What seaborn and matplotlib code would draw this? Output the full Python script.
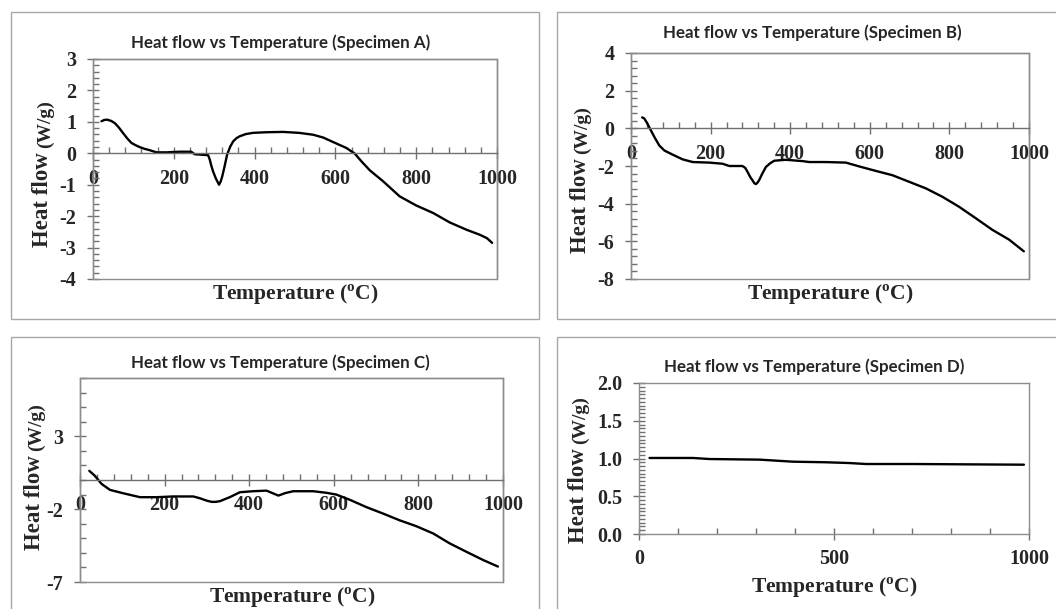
import matplotlib
matplotlib.use("Agg")
import matplotlib.pyplot as plt
from matplotlib.patches import Rectangle
from matplotlib.ticker import MultipleLocator, FixedLocator, FormatStrFormatter
import seaborn as sns

sns.set_style("white")
plt.rcParams["font.family"] = ["Liberation Serif", "DejaVu Serif"]
plt.rcParams["axes.unicode_minus"] = False
plt.rcParams["mathtext.fontset"] = "custom"
plt.rcParams["mathtext.rm"] = "Liberation Serif"
plt.rcParams["mathtext.bf"] = "Liberation Serif:bold"

# Specimen A
temp_a = [21, 28, 35, 45, 54, 64, 74, 85, 95, 105, 115, 128, 140, 157, 182, 215, 243, 252,
          285, 289, 293, 297, 304, 312, 316, 320, 326, 332, 340, 347, 355, 363, 378, 396,
          430, 470, 510, 545, 570, 594, 627, 648, 664, 685, 718, 759, 800, 842, 883, 924,
          957, 975, 988]
flow_a = [1.02, 1.06, 1.07, 1.03, 0.96, 0.82, 0.65, 0.47, 0.33, 0.26, 0.2, 0.14, 0.1, 0.03,
          0.03, 0.05, 0.05, -0.03, -0.06, -0.2, -0.4, -0.57, -0.8, -1.0, -0.9, -0.73, -0.4,
          -0.04, 0.22, 0.38, 0.48, 0.54, 0.61, 0.65, 0.67, 0.68, 0.65, 0.59, 0.5, 0.36, 0.17,
          -0.01, -0.25, -0.54, -0.89, -1.37, -1.66, -1.9, -2.2, -2.43, -2.59, -2.7, -2.85]

# Specimen B
temp_b = [28, 33, 40, 46, 59, 71, 84, 105, 130, 155, 197, 230, 247, 280, 287, 293, 300, 305,
          310, 314, 318, 322, 330, 339, 350, 360, 389, 431, 448, 490, 540, 573, 615, 657,
          699, 741, 782, 824, 866, 908, 950, 987]
flow_b = [0.58, 0.53, 0.3, 0.05, -0.47, -0.91, -1.18, -1.4, -1.65, -1.79, -1.82, -1.88, -2.0,
          -2.0, -2.1, -2.32, -2.6, -2.75, -2.92, -2.96, -2.88, -2.75, -2.4, -2.05, -1.85,
          -1.72, -1.67, -1.74, -1.79, -1.79, -1.82, -2.02, -2.26, -2.49, -2.84, -3.19, -3.63,
          -4.16, -4.77, -5.39, -5.91, -6.53]

# Specimen C
temp_c = [22, 35, 51, 71, 102, 142, 181, 220, 268, 283, 300, 311, 321, 331, 354, 378, 409,
          441, 455, 469, 485, 504, 551, 583, 606, 638, 677, 717, 756, 795, 835, 874, 913,
          953, 988]
flow_c = [0.63, 0.29, -0.27, -0.68, -0.91, -1.18, -1.18, -1.13, -1.13, -1.25, -1.42, -1.5,
          -1.5, -1.45, -1.18, -0.84, -0.77, -0.73, -0.9, -1.07, -0.9, -0.77, -0.77, -0.88,
          -1.0, -1.36, -1.86, -2.31, -2.77, -3.17, -3.67, -4.35, -4.92, -5.49, -5.94]

# Specimen D
temp_d = [27, 138, 181, 309, 394, 480, 539, 582, 701, 987]
flow_d = [1.007, 1.007, 0.993, 0.985, 0.958, 0.95, 0.94, 0.927, 0.927, 0.918]

W, H = 1056, 609
fig = plt.figure(figsize=(W / 100, H / 100), dpi=100)


def fig_box(x0, y0, x1, y1):
    fig.add_artist(Rectangle((x0 / W, 1 - y1 / H), (x1 - x0) / W, (y1 - y0) / H,
                             transform=fig.transFigure, fill=False,
                             edgecolor="#a8a8a8", linewidth=1))


def px_axes(l, t, r, b):
    return fig.add_axes([l / W, 1 - b / H, (r - l) / W, (b - t) / H])


fig_box(11, 12, 539, 319)
fig_box(557, 12, 1070, 319)
fig_box(11, 337, 539, 620)
fig_box(557, 337, 1070, 620)

panels = [
    dict(x=temp_a, y=flow_a, pos=(93, 59, 497, 279), ylim=(-4, 3), yticks=range(-4, 4),
         ymin=0.2, xmaj=200, xmin=40, zero=True, name="A",
         title=(281, 43), hf=(43, 247), xl=(295, 295)),
    dict(x=temp_b, y=flow_b, pos=(631, 53, 1029, 279), ylim=(-8, 4), yticks=range(-8, 5, 2),
         ymin=0.4, xmaj=200, xmin=40, zero=True, name="B",
         title=(812, 33), hf=(580, 253), xl=(830, 295)),
    dict(x=temp_c, y=flow_c, pos=(80, 378, 503, 582), ylim=(-7, 7), yticks=[-7, -2, 3],
         ymin=1, xmaj=200, xmin=40, zero=True, name="C",
         title=(280, 363), hf=(34, 550), xl=(292, 598)),
    dict(x=temp_d, y=flow_d, pos=(639, 383, 1029, 534), ylim=(0, 2), yticks=[0, 0.5, 1, 1.5, 2],
         ymin=0.05, xmaj=500, xmin=100, zero=False, name="D",
         title=(814, 367), hf=(578, 543), xl=(834, 588)),
]

for p in panels:
    ax = px_axes(*p["pos"])
    sns.lineplot(x=p["x"], y=p["y"], ax=ax, color="black", linewidth=1.7,
                 sort=False, estimator=None)
    ax.set_xlim(0, 1000)
    ax.set_ylim(*p["ylim"])
    for s in ax.spines.values():
        s.set_color("#8c8c8c")
        s.set_linewidth(1)
    if p["zero"]:
        ax.spines["bottom"].set_position(("data", 0))
        ax.spines["bottom"].set_color("#707070")
        ax.add_patch(Rectangle((0, 0), 1, 1, transform=ax.transAxes, fill=False,
                               edgecolor="#8c8c8c", linewidth=1, clip_on=False))
    ax.xaxis.set_major_locator(MultipleLocator(p["xmaj"]))
    ax.xaxis.set_minor_locator(MultipleLocator(p["xmin"]))
    ax.yaxis.set_major_locator(FixedLocator(list(p["yticks"])))
    ax.yaxis.set_minor_locator(MultipleLocator(p["ymin"]))
    if p["name"] == "D":
        ax.yaxis.set_major_formatter(FormatStrFormatter("%.1f"))
    ax.tick_params(axis="both", which="major", direction="inout", length=8, width=1,
                   color="#707070", labelsize=14.5, bottom=True, left=True)
    ax.tick_params(axis="both", which="minor", direction="in", length=4, width=1,
                   color="#707070", bottom=True, left=True)
    ax.tick_params(axis="x", which="major", pad=7)
    ax.tick_params(axis="y", which="major", pad=8)
    for lab in ax.get_xticklabels() + ax.get_yticklabels():
        lab.set_fontweight("bold")
    ax.set_xlabel("")
    ax.set_ylabel("")

    fig.text(p["title"][0] / W, 1 - p["title"][1] / H,
             "Heat flow vs Temperature (Specimen %s)" % p["name"],
             ha="center", va="center", fontsize=12.2, fontweight="bold", family="Lato")
    hf = fig.text(p["hf"][0] / W, 1 - p["hf"][1] / H, "Heat flow", rotation=90,
                  ha="center", va="bottom", fontsize=16.5, fontweight="bold")
    fig.add_artist(matplotlib.text.Annotation(
        "(W/g)", xy=(0.5, 1), xycoords=hf, xytext=(1.5, 3), textcoords="offset points",
        rotation=90, ha="center", va="bottom", fontsize=14, fontweight="bold"))
    fig.text(p["xl"][0] / W, 1 - p["xl"][1] / H, r"Temperature ($^{\mathbf{o}}$C)",
             ha="center", va="center", fontsize=15.5, fontweight="bold")

fig.savefig("out.png", dpi=100)
